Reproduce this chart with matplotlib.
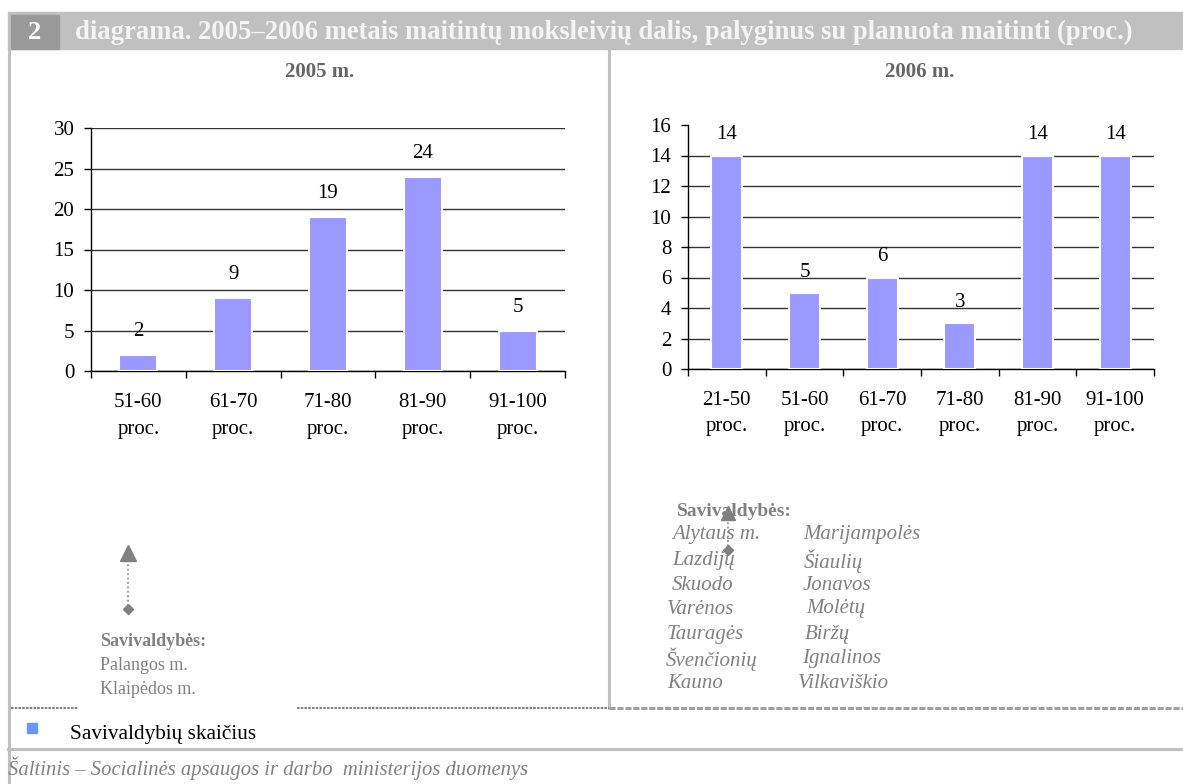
import numpy as np
import matplotlib
matplotlib.use('Agg')
import matplotlib.pyplot as plt
from matplotlib.patches import Rectangle

# data
cats_2005 = ['51-60\nproc.', '61-70\nproc.', '71-80\nproc.', '81-90\nproc.', '91-100\nproc.']
vals_2005 = [2, 9, 19, 24, 5]
cats_2006 = ['21-50\nproc.', '51-60\nproc.', '61-70\nproc.', '71-80\nproc.', '81-90\nproc.', '91-100\nproc.']
vals_2006 = [14, 5, 6, 3, 14, 14]
names_2005 = ['Palangos m.', 'Klaipėdos m.']
names_2006_a = ['Alytaus m.', 'Lazdijų', 'Skuodo', 'Varėnos', 'Tauragės', 'Švenčionių', 'Kauno']
names_2006_b = ['Marijampolės', 'Šiaulių', 'Jonavos', 'Molėtų', 'Biržų', 'Ignalinos', 'Vilkaviškio']

W, H = 1183, 784
BAR = '#9999ff'
GRAY = '#808080'
LIGHT = '#c0c0c0'
SERIF = ['Liberation Serif', 'DejaVu Serif']

plt.rcParams['font.family'] = SERIF

fig = plt.figure(figsize=(W / 100, H / 100), dpi=100)

# overlay in pixel coordinates
bg = fig.add_axes([0, 0, 1, 1])
bg.set_xlim(0, W)
bg.set_ylim(H, 0)
bg.axis('off')


def px_axes(x0, x1, ytop, ybot):
    return fig.add_axes([x0 / W, 1 - ybot / H, (x1 - x0) / W, (ybot - ytop) / H])


def bar_chart(ax, cats, vals, ymax, step, pad, lsp, xpad):
    x = np.arange(len(cats))
    bars = ax.bar(x, vals, width=0.4, color=BAR, edgecolor='white', linewidth=1.5, zorder=3)
    ax.bar_label(bars, padding=pad, fontsize=15)
    ax.set_xlim(-0.5, len(cats) - 0.5)
    ax.set_ylim(0, ymax)
    ax.set_yticks(np.arange(0, ymax + 1, step))
    ax.set_xticks(np.arange(-0.5, len(cats), 1.0))
    ax.set_xticklabels([])
    ax.set_xticks(x, minor=True)
    ax.set_xticklabels(cats, minor=True, fontsize=15, linespacing=lsp)
    ax.tick_params(axis='x', which='major', direction='out', length=5, width=1)
    ax.tick_params(axis='x', which='minor', length=0, pad=xpad)
    ax.tick_params(axis='y', direction='out', length=5, width=1, labelsize=15, pad=7)
    ax.yaxis.grid(True, color='#333333', linewidth=1, zorder=0)
    ax.set_axisbelow(True)
    for s in ['top', 'right']:
        ax.spines[s].set_visible(False)
    for s in ['left', 'bottom']:
        ax.spines[s].set_linewidth(1)
    ax.patch.set_alpha(0)


ax1 = px_axes(91, 565, 128, 371)
bar_chart(ax1, cats_2005, vals_2005, 30, 5, 10, 1.55, 16)

ax2 = px_axes(688, 1154, 125, 369)
bar_chart(ax2, cats_2006, vals_2006, 16, 2, 8, 1.45, 16)
ax2.get_ygridlines()[-1].set_visible(False)

# header
bg.add_patch(Rectangle((8, 12), W - 8, 37, color=LIGHT, zorder=1))
bg.add_patch(Rectangle((11, 15), 48, 34, color='#999999', zorder=2))
bg.text(35, 32, '2', color='white', fontsize=19, fontweight='bold', ha='center', va='center', zorder=3)
bg.text(75, 32, 'diagrama. 2005–2006 metais maitintų moksleivių dalis, palyginus su planuota maitinti (proc.)',
        color='#f4f4f4', fontsize=19.2, fontweight='bold', ha='left', va='center', zorder=3)

# panel titles
bg.text(320, 72, '2005 m.', color='#666666', fontsize=15, fontweight='bold', ha='center', va='center')
bg.text(920, 72, '2006 m.', color='#666666', fontsize=15, fontweight='bold', ha='center', va='center')

# frame lines
bg.plot([9.5, 9.5], [49, H], color=LIGHT, linewidth=2.2)
bg.plot([609, 609], [49, 708], color=LIGHT, linewidth=2.2)
bg.plot([8, W], [749, 749], color=LIGHT, linewidth=2.2)
bg.plot([11, 78], [708, 708], color=GRAY, linewidth=1.5, linestyle=(0, (1.2, 0.6)))
bg.plot([297, 609], [708, 708], color=GRAY, linewidth=1.5, linestyle=(0, (1.2, 0.6)))
bg.plot([609, W], [708, 708], color='#a0a0a0', linewidth=2.2, linestyle=(0, (2, 0.6)))

# 2005 annotation
bg.plot([128, 128], [560, 606], color=GRAY, linewidth=1.2, linestyle=':')
bg.plot(128, 553, marker='^', color=GRAY, markersize=11)
bg.plot(128, 609, marker='D', color=GRAY, markersize=5)
bg.text(100, 642, 'Savivaldybės:', color=GRAY, fontsize=13, fontweight='bold', ha='left', va='center')
for i, n in enumerate(names_2005):
    bg.text(100, 665 + 25 * i, n, color=GRAY, fontsize=13, ha='left', va='center')

# 2006 annotation
bg.text(677, 511, 'Savivaldybės:', color=GRAY, fontsize=14, fontweight='bold', ha='left', va='center')
bg.plot([728, 728], [518, 547], color=GRAY, linewidth=1.2, linestyle=':')
bg.plot(728, 513, marker='^', color=GRAY, markersize=10)
bg.plot(728, 550, marker='D', color=GRAY, markersize=5)
xa = [672, 672, 672, 667, 667, 666, 667]
xb = [803, 804, 803, 806, 805, 802, 798]
rows = [535, 561, 586, 609, 635, 659, 683]
for i in range(len(names_2006_a)):
    bg.text(xa[i], rows[i], names_2006_a[i], color=GRAY, fontsize=15, style='italic', ha='left', va='center')
    bg.text(xb[i], rows[i], names_2006_b[i], color=GRAY, fontsize=15, style='italic', ha='left', va='center')

# legend
bg.add_patch(Rectangle((27, 723), 10, 10, color='#6699ff'))
bg.text(70, 734, 'Savivaldybių skaičius', color='black', fontsize=15.3, ha='left', va='center')

# source
bg.text(8, 768, 'Šaltinis – Socialinės apsaugos ir darbo  ministerijos duomenys', color=GRAY,
        fontsize=14.9, style='italic', ha='left', va='center')

fig.savefig('out.png', dpi=100)
